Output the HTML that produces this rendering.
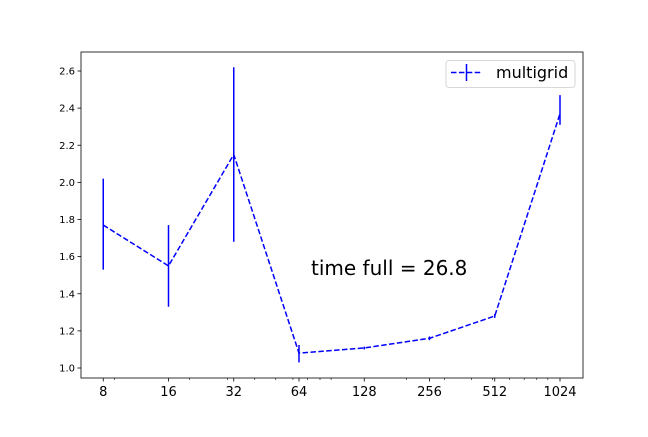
<!DOCTYPE html>
<html><head><meta charset="utf-8"><style>
body{margin:0;background:#fff;font-family:"Liberation Sans","DejaVu Sans",sans-serif}
svg text{font-family:"DejaVu Sans","Liberation Sans",sans-serif}
</style></head><body>
<svg id="c" width="648" height="432" xmlns="http://www.w3.org/2000/svg"></svg>
<script>
const categories=[8,16,32,64,128,256,512,1024];
const values=[1.77,1.55,2.15,1.08,1.108,1.16,1.28,2.37];
const errLow=[1.53,1.33,1.68,1.03,1.10,1.15,1.27,2.31];
const errHigh=[2.02,1.77,2.62,1.124,1.115,1.17,1.29,2.47];
const yTicks=[1.0,1.2,1.4,1.6,1.8,2.0,2.2,2.4,2.6];
const xTickLabels=["8","16","32","64","128","256","512","1024"];
const L=81,R=583,T=52,B=378;
const xs=v=>103.25+Math.log2(v/8)*65.25;
const ys=v=>368-(v-1)/0.2*37.125;
const svg=document.getElementById('c');
const NS='http://www.w3.org/2000/svg';
function mk(tag,attrs,parent){const e=document.createElementNS(NS,tag);for(const k in attrs)e.setAttribute(k,attrs[k]);(parent||svg).appendChild(e);return e;}
// y ticks
yTicks.forEach(t=>{
  const y=ys(t);
  const tk=mk('line',{x1:L-3.5,x2:L,y1:y,y2:y,stroke:'#000','stroke-width':0.8});
  
  
  const tx=mk('text',{x:L-6,y:y+3.5,'font-size':10,'text-anchor':'end'});
  tx.textContent=t.toFixed(1);
  
  
});
// minor x ticks (base-10 minors)
[9,20,30,40,50,60,70,80,90,200,300,400,500,600,700,800,900].forEach(m=>{
  const x=xs(m); if(x<L||x>R)return;
  const tk=mk('line',{x1:x,x2:x,y1:B,y2:B+2,stroke:'#000','stroke-width':0.6});
  
  
});
categories.forEach((c,i)=>{
  const x=xs(c);
  const tk=mk('line',{x1:x,x2:x,y1:B,y2:B+3.5,stroke:'#000','stroke-width':0.8});
  
  
  const tx=mk('text',{x:x,y:B+18,'font-size':13,'text-anchor':'middle'});
  tx.textContent=xTickLabels[i];
  
  
});
// line
const pts=categories.map((c,i)=>xs(c)+','+ys(values[i])).join(' ');
const pl=mk('polyline',{points:pts,fill:'none',stroke:'#0000ff','stroke-width':1.5,'stroke-dasharray':'5.5,2.4'});


categories.forEach((c,i)=>{
  const x=xs(c);
  const eb=mk('line',{x1:x,x2:x,y1:ys(errLow[i]),y2:ys(errHigh[i]),stroke:'#0000ff','stroke-width':1.5});
  
  
});
const fr=mk('rect',{x:L,y:T,width:R-L,height:B-T,fill:'none',stroke:'#000','stroke-width':0.8});


const an=mk('text',{x:311,y:275,'font-size':20});
an.textContent='time full = 26.8';


// legend
const lg=mk('g',{});


mk('rect',{x:446,y:60.5,width:129,height:27,rx:3,fill:'#fff',stroke:'#ccc','stroke-width':0.8},lg);
mk('line',{x1:451,x2:482,y1:72.5,y2:72.5,stroke:'#0000ff','stroke-width':1.5,'stroke-dasharray':'5.5,2.4'},lg);
mk('line',{x1:466.5,x2:466.5,y1:64,y2:81,stroke:'#0000ff','stroke-width':1.5},lg);
const lt=mk('text',{x:496,y:78,'font-size':16},lg);
lt.textContent='multigrid';


</script>
</body></html>
